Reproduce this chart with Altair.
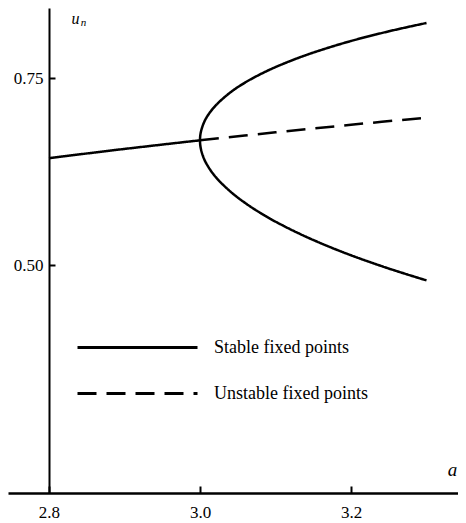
import altair as alt
import pandas as pd

# ---- data ----
# fixed point u* (stable for a<3, unstable for a>3)
stable_a = [2.8, 2.9, 3.0]
stable_u = [0.6429, 0.6552, 0.6667]
unstable_a = [3.0, 3.1, 3.2, 3.3]
unstable_u = [0.6667, 0.6774, 0.6875, 0.6970]
# period-2 branch (stable), upper and lower parts
branch_a = [3.0, 3.001, 3.005, 3.01, 3.02, 3.04, 3.06, 3.08, 3.1, 3.13, 3.16, 3.2, 3.25, 3.3]
branch_upper = [0.6667, 0.6772, 0.6900, 0.6994, 0.7125, 0.7306, 0.7441, 0.7551, 0.7646,
                0.7768, 0.7873, 0.7995, 0.8124, 0.8236]
branch_lower = [0.6667, 0.6561, 0.6428, 0.6329, 0.6186, 0.5984, 0.5828, 0.5696, 0.5580,
                0.5427, 0.5291, 0.5130, 0.4953, 0.4794]
x_ticks = [2.8, 3.0, 3.2]
y_ticks = [0.50, 0.75]
kinds = ["Stable fixed points", "Unstable fixed points"]

rows = []
for i, (a, u) in enumerate(zip(stable_a, stable_u)):
    rows.append(dict(a=a, u=u, kind=kinds[0], seg="s", o=i))
for i, (a, u) in enumerate(zip(unstable_a, unstable_u)):
    rows.append(dict(a=a, u=u, kind=kinds[1], seg="us", o=i))
# branch path: lower end -> nose -> upper end
path_a = branch_a[::-1] + branch_a[1:]
path_u = branch_lower[::-1] + branch_upper[1:]
for i, (a, u) in enumerate(zip(path_a, path_u)):
    rows.append(dict(a=a, u=u, kind=kinds[0], seg="b", o=i))
df = pd.DataFrame(rows)

FONT = "Liberation Serif"
W, H = 450, 485
AX = 41  # pixel position of the vertical axis inside the plot area
XD = [2.7457, 3.3417]
YD = [0.1952, 0.8436]

xs = alt.Scale(domain=XD, nice=False, zero=False)
ys = alt.Scale(domain=YD, nice=False, zero=False)

# layer that carries the tick marks and axis lines
main = alt.Chart(df).mark_line(color="black", strokeWidth=2.5, interpolate="catmull-rom").encode(
    x=alt.X("a:Q", scale=xs, axis=alt.Axis(
        orient="top", offset=-H, values=x_ticks, labels=False, ticks=True, tickSize=7,
        tickWidth=2, tickColor="black", domain=True, domainColor="black", domainWidth=2.5,
        grid=False, title=None)),
    y=alt.Y("u:Q", scale=ys, axis=alt.Axis(
        orient="right", offset=-(W - AX), values=y_ticks, labels=False, ticks=True, tickSize=6,
        tickWidth=2, tickColor="black", domain=True, domainColor="black", domainWidth=2,
        grid=False, title="n", titleFont=FONT, titleFontSize=11, titleFontStyle="italic",
        titleFontWeight="normal", titleColor="black", titleAngle=0, titleX=34, titleY=17,
        titleAlign="center", titleBaseline="alphabetic")),
    strokeDash=alt.StrokeDash("kind:N", scale=alt.Scale(domain=kinds, range=[[1, 0], [19, 10]]),
                              legend=alt.Legend(
                                  orient="none", legendX=118, legendY=328, title=None,
                                  symbolType="M-6,0H6", symbolSize=400, symbolStrokeWidth=3,
                                  symbolStrokeColor="black", symbolFillColor="black",
                                  labelFont=FONT, labelFontSize=18, labelColor="black",
                                  labelOffset=65, rowPadding=25, labelLimit=300)),
    detail="seg:N",
    order="o:Q",
)

# invisible layer that carries the tick labels and the axis titles
labels = alt.Chart(df).mark_line(opacity=0).encode(
    x=alt.X("a:Q", scale=xs, axis=alt.Axis(
        orient="bottom", values=x_ticks, format=".1f", ticks=False, tickSize=0, domain=False,
        grid=False, labelFont=FONT, labelFontSize=17, labelColor="black", labelPadding=11,
        title="a", titleFont=FONT, titleFontSize=19, titleFontStyle="italic", titleFontWeight="normal",
        titleColor="black", titleAngle=0, titleX=444, titleY=-18, titleAlign="center",
        titleBaseline="alphabetic")),
    y=alt.Y("u:Q", scale=ys, axis=alt.Axis(
        orient="left", offset=-AX, values=y_ticks, format=".2f", ticks=False, tickSize=0,
        domain=False, grid=False, labelFont=FONT, labelFontSize=17, labelColor="black",
        labelPadding=6,
        title="u", titleFont=FONT, titleFontSize=16, titleFontStyle="italic",
        titleFontWeight="normal", titleColor="black", titleAngle=0, titleX=26, titleY=15,
        titleAlign="center", titleBaseline="alphabetic")),
    detail="seg:N",
    order="o:Q",
)

chart = alt.layer(main, labels).resolve_axis(x="independent", y="independent").properties(
    width=W, height=H,
    autosize=alt.AutoSizeParams(type="none"),
    padding={"left": 0, "top": 0, "right": 0, "bottom": 30},
).configure_view(stroke=None).configure_axis(
    labelFont=FONT, labelFontSize=17, labelColor="black"
)

chart.save("out.html", embed_options={"renderer": "svg", "actions": False})
